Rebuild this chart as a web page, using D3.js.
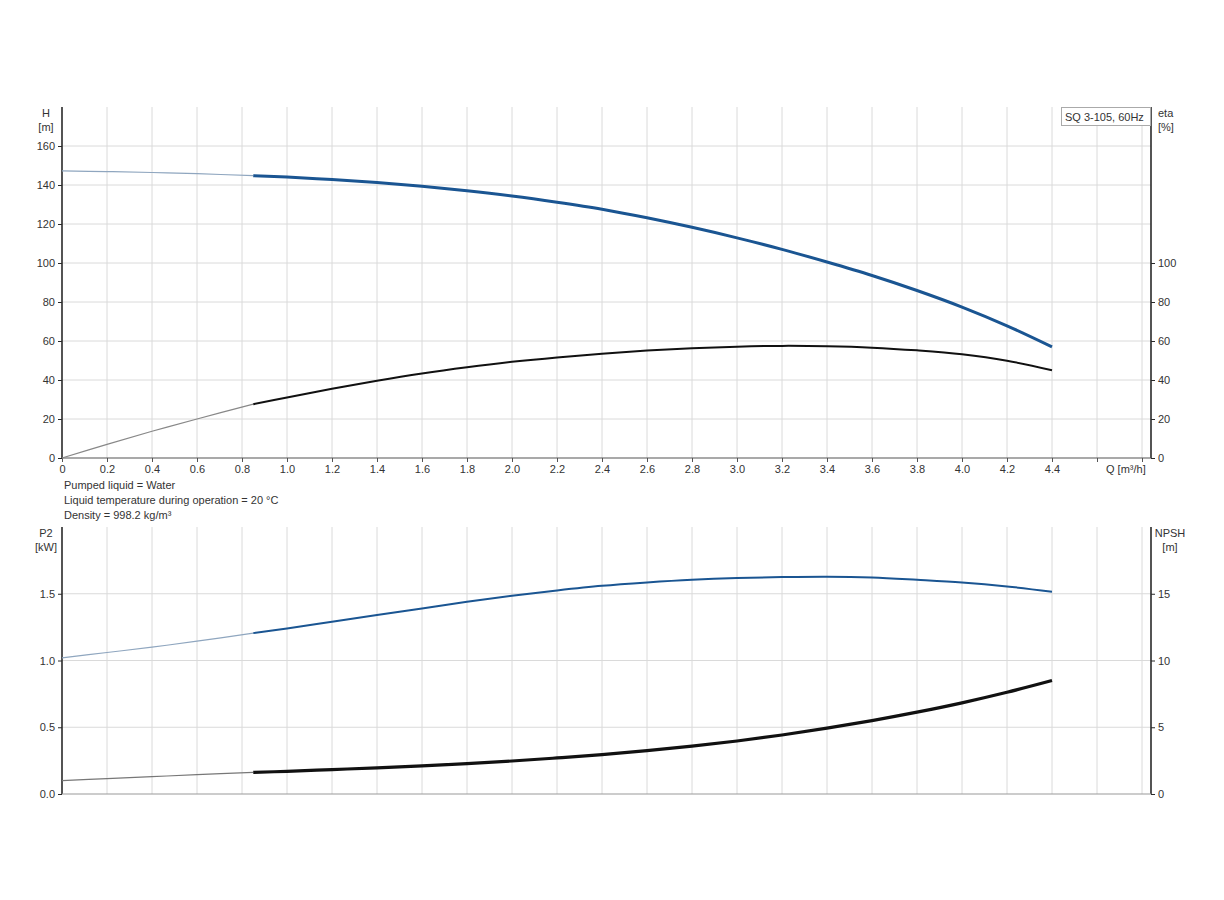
<!DOCTYPE html>
<html>
<head>
<meta charset="utf-8">
<script src="https://cdn.jsdelivr.net/npm/d3@7"></script>
<style>
  body { margin: 0; background: #fff; }
  svg { font-family: "Liberation Sans", Arial, sans-serif; }
</style>
</head>
<body>
<svg id="chart" width="1224" height="900"></svg>
<script>
// ---- data ----
const qValues = [0, 0.2, 0.4, 0.6, 0.85, 1.0, 1.2, 1.4, 1.6, 1.8, 2.0, 2.2, 2.4, 2.6, 2.8, 3.0, 3.2, 3.4, 3.6, 3.8, 4.0, 4.2, 4.4];
const headH = [147.2, 146.9, 146.4, 145.8, 144.8, 144.1, 142.8, 141.3, 139.4, 137.1, 134.4, 131.2, 127.6, 123.2, 118.3, 112.9, 107.0, 100.5, 93.6, 85.9, 77.4, 67.8, 57.0];
const etaValues = [0, 7.0, 13.7, 20.0, 27.6, 31.0, 35.5, 39.6, 43.3, 46.5, 49.3, 51.6, 53.5, 55.1, 56.3, 57.1, 57.5, 57.3, 56.6, 55.2, 53.2, 49.9, 45.0];
const p2Values = [1.02, 1.06, 1.10, 1.145, 1.205, 1.24, 1.29, 1.34, 1.39, 1.44, 1.485, 1.525, 1.56, 1.585, 1.605, 1.618, 1.625, 1.628, 1.622, 1.605, 1.585, 1.555, 1.515];
const npshValues = [1.0, 1.15, 1.3, 1.45, 1.62, 1.70, 1.83, 1.96, 2.10, 2.27, 2.47, 2.70, 2.95, 3.25, 3.58, 3.97, 4.42, 4.93, 5.50, 6.13, 6.83, 7.62, 8.50];
const qSplit = 0.85;
const qTicks = [0,0.2,0.4,0.6,0.8,1.0,1.2,1.4,1.6,1.8,2.0,2.2,2.4,2.6,2.8,3.0,3.2,3.4,3.6,3.8,4.0,4.2,4.4,4.6,4.8];
const qTickLabels = ["0","0.2","0.4","0.6","0.8","1.0","1.2","1.4","1.6","1.8","2.0","2.2","2.4","2.6","2.8","3.0","3.2","3.4","3.6","3.8","4.0","4.2","4.4","",""];
const hTicks = [0,20,40,60,80,100,120,140,160];
const etaTicks = [0,20,40,60,80,100];
const p2Ticks = [0,0.5,1.0,1.5];
const p2TickLabels = ["0.0","0.5","1.0","1.5"];
const npshTicks = [0,5,10,15];
const infoLines = ["Pumped liquid = Water", "Liquid temperature during operation = 20 °C", "Density = 998.2 kg/m³"];
const legendLabel = "SQ 3-105, 60Hz";

// ---- layout ----
const svg = d3.select("#chart");
const X0 = 62, X1 = 1151;
const x = d3.scaleLinear().domain([0, 4.84]).range([X0, X1]);
const yTop = d3.scaleLinear().domain([0, 180]).range([458, 107]);
const yEta = d3.scaleLinear().domain([0, 180]).range([458, 107]);
const yBot = d3.scaleLinear().domain([0, 2]).range([794, 527]);
const yNpsh = d3.scaleLinear().domain([0, 20]).range([794, 527]);

const gridColor = "#dadada";
const axisColor = "#2a2a2a";
const textColor = "#333";
const blue = "#1a5592";

function panel(yScale, gridVals) {
  const g = svg.append("g");
  const [yb, yt] = yScale.range();
  g.selectAll("line.vg").data(qTicks.slice(1)).join("line")
    .attr("x1", d => x(d)).attr("x2", d => x(d))
    .attr("y1", yt).attr("y2", yb)
    .attr("stroke", gridColor).attr("stroke-width", 1);
  g.selectAll("line.hg").data(gridVals).join("line")
    .attr("x1", X0).attr("x2", X1)
    .attr("y1", d => yScale(d)).attr("y2", d => yScale(d))
    .attr("stroke", gridColor).attr("stroke-width", 1);
  return g;
}

panel(yTop, [20,40,60,80,100,120,140,160]);
panel(yBot, [0.5,1.0,1.5]);

// ---- top axes ----
const fontSize = 11;
const axL = d3.axisLeft(yTop).tickValues(hTicks).tickSize(4).tickPadding(3).tickFormat(d3.format("d"));
const gL = svg.append("g").attr("transform", `translate(${X0},0)`).call(axL);
const axR = d3.axisRight(yEta).tickValues(etaTicks).tickSize(4).tickPadding(3).tickFormat(d3.format("d"));
const gR = svg.append("g").attr("transform", `translate(${X1},0)`).call(axR);
const axB = d3.axisBottom(x).tickValues(qTicks).tickSize(4).tickPadding(3).tickFormat((d, i) => qTickLabels[i]);
const gB = svg.append("g").attr("transform", `translate(0,${yTop(0)})`).call(axB);

// ---- bottom axes ----
const axL2 = d3.axisLeft(yBot).tickValues(p2Ticks).tickSize(4).tickPadding(3).tickFormat((d, i) => p2TickLabels[i]);
const gL2 = svg.append("g").attr("transform", `translate(${X0},0)`).call(axL2);
const axR2 = d3.axisRight(yNpsh).tickValues(npshTicks).tickSize(4).tickPadding(3).tickFormat(d3.format("d"));
const gR2 = svg.append("g").attr("transform", `translate(${X1},0)`).call(axR2);
const axB2 = d3.axisBottom(x).tickValues([]).tickSize(0).tickSizeOuter(0);
const gB2 = svg.append("g").attr("transform", `translate(0,${yBot(0)})`).call(axB2);

[[gL, yTop], [gR, yEta], [gL2, yBot], [gR2, yNpsh]].forEach(([g, s]) => {
  const r = s.range();
  g.select(".domain").attr("stroke", axisColor).attr("stroke-width", 1.6).attr("d", `M0,${r[0]}V${r[1]}`);
  g.selectAll(".tick line").attr("stroke", axisColor);
  g.selectAll("text").attr("font-size", fontSize).attr("fill", textColor).attr("font-family", "Liberation Sans, Arial, sans-serif");
});
gB.select(".domain").attr("stroke", "#555").attr("stroke-width", 1.2).attr("d", `M${X0},0H${X1}`);
gB.selectAll(".tick line").attr("stroke", "#555");
gB.selectAll("text").attr("font-size", fontSize).attr("fill", textColor).attr("font-family", "Liberation Sans, Arial, sans-serif");
gB2.select(".domain").attr("stroke", "#999").attr("stroke-width", 1.2).attr("d", `M${X0},0H${X1}`);

// ---- axis titles ----
function label(txt, xx, yy, anchor) {
  svg.append("text").attr("x", xx).attr("y", yy).attr("text-anchor", anchor || "middle")
    .attr("font-size", fontSize).attr("fill", textColor).text(txt);
}
label("H", 46, 117);
label("[m]", 46, 131);
label("eta", 1158, 117, "start");
label("[%]", 1158, 131, "start");
label("P2", 46, 537);
label("[kW]", 46, 551);
label("NPSH", 1170, 537);
label("[m]", 1170, 551);
label("Q [m³/h]", 1106, 473, "start");

infoLines.forEach((t, i) => label(t, 64, 489 + i * 15, "start"));

// legend box
const lg = svg.append("g");
lg.append("rect").attr("x", 1061.5).attr("y", 107.5).attr("width", 89).attr("height", 18)
  .attr("fill", "#fff").attr("stroke", "#aaa");
lg.append("text").attr("x", 1065).attr("y", 121).attr("font-size", fontSize).attr("fill", textColor).text(legendLabel);

// ---- curves ----
function drawCurve(vals, yScale, color, thinColor, wThick, wThin) {
  const pts = qValues.map((q, i) => [q, vals[i]]);
  const line = d3.line().x(d => x(d[0])).y(d => yScale(d[1])).curve(d3.curveCatmullRom.alpha(0.5));
  const thin = pts.filter(d => d[0] <= qSplit);
  const thick = pts.filter(d => d[0] >= qSplit);
  svg.append("path").attr("d", line(thin)).attr("fill", "none").attr("stroke", thinColor).attr("stroke-width", wThin);
  svg.append("path").attr("d", line(thick)).attr("fill", "none").attr("stroke", color).attr("stroke-width", wThick).attr("stroke-linecap", "butt");
}
drawCurve(headH, yTop, blue, "#8fa6bf", 3, 1.2);
drawCurve(etaValues, yEta, "#111", "#888", 2, 1.2);
drawCurve(p2Values, yBot, blue, "#8fa6bf", 2, 1.2);
drawCurve(npshValues, yNpsh, "#111", "#777", 3.2, 1.2);
</script>
</body>
</html>
